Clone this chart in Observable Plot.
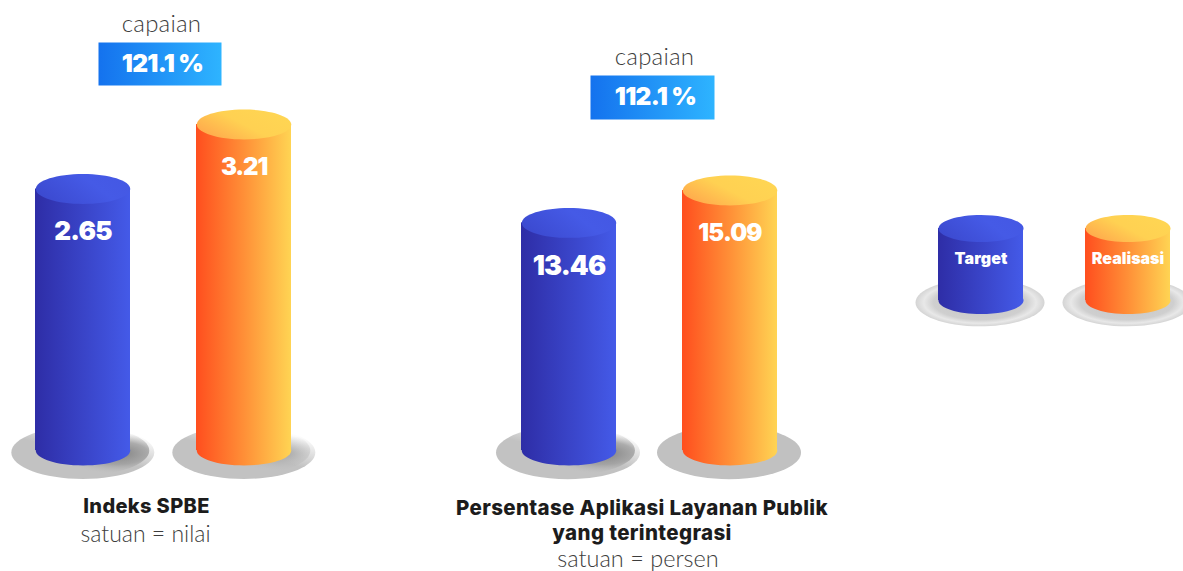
<!DOCTYPE html>
<html><head><meta charset="utf-8">
<script src="https://cdn.jsdelivr.net/npm/d3@7"></script>
<script src="https://cdn.jsdelivr.net/npm/@observablehq/plot@0.6"></script>
<style>
html,body{margin:0;padding:0;background:#fff;overflow:hidden}
#row{position:relative;width:1183px;height:571px}
#row svg{position:absolute;top:0;display:block;background:transparent}
</style></head><body><div id="row"></div>
<script>
const series = ["Target", "Realisasi"];
const spbeValues = [2.65, 3.21];
const aplikasiValues = [13.46, 15.09];
const legendLevels = [1, 1];
const achievementA = "121.1 %";
const achievementB = "112.1 %";
const titleA = ["Indeks SPBE"];
const titleB = ["Persentase Aplikasi Layanan Publik", "yang terintegrasi"];
const unitA = "satuan = nilai";
const unitB = "satuan = persen";
const captionWord = "capaian";

const BOLD = "Inter, 'Noto Sans', sans-serif";
const LIGHT = "Lato, Roboto, sans-serif";

function ellipseSymbol(k) {
  const c = 0.5522848;
  return {draw(ctx, size) {
    const rx = Math.sqrt(size / Math.PI), ry = rx * k;
    ctx.moveTo(rx, 0);
    ctx.bezierCurveTo(rx, ry * c, rx * c, ry, 0, ry);
    ctx.bezierCurveTo(-rx * c, ry, -rx, ry * c, -rx, 0);
    ctx.bezierCurveTo(-rx, -ry * c, -rx * c, -ry, 0, -ry);
    ctx.bezierCurveTo(rx * c, -ry, rx, -ry * c, rx, 0);
    ctx.closePath();
  }};
}
const boxSymbol = (w, h) => ({draw(ctx) { ctx.rect(-w / 2, -h / 2, w, h); }});
const spaced = ls => (index, scales, values, dims, ctx, next) => {
  const g = next(index, scales, values, dims, ctx);
  g.style.letterSpacing = ls + "px";
  return g;
};

const defsMark = () => d3.create("svg:defs").html(`
  <linearGradient id="gTarget"><stop offset="0" stop-color="#2e2da6"/><stop offset="1" stop-color="#445ae8"/></linearGradient>
  <linearGradient id="gRealisasi"><stop offset="0" stop-color="#ff4e1e"/><stop offset="0.5" stop-color="#ff8f37"/><stop offset="1" stop-color="#ffd453"/></linearGradient>
  <linearGradient id="tTarget" x1="0" y1="0.7" x2="1" y2="0.3"><stop offset="0" stop-color="#3b49cf"/><stop offset="0.65" stop-color="#455ae6"/><stop offset="1" stop-color="#4458e4"/></linearGradient>
  <linearGradient id="tRealisasi" x1="0" y1="0.8" x2="1" y2="0.2"><stop offset="0" stop-color="#ffa64c"/><stop offset="0.5" stop-color="#ffd152"/><stop offset="1" stop-color="#ffd653"/></linearGradient>
  <linearGradient id="gBox"><stop offset="0" stop-color="#1472ee"/><stop offset="1" stop-color="#2eb4ff"/></linearGradient>
  <radialGradient id="gShade" cx="0.76" cy="0.55" r="0.42"><stop offset="0" stop-color="#7f7f7f"/><stop offset="0.55" stop-color="#9c9c9c" stop-opacity="0.8"/><stop offset="1" stop-color="#bcbcbc" stop-opacity="0"/></radialGradient>
  <radialGradient id="gShadeSoft" cx="0.76" cy="0.55" r="0.36"><stop offset="0" stop-color="#9a9a9a"/><stop offset="1" stop-color="#bcbcbc" stop-opacity="0"/></radialGradient>
  <linearGradient id="gGlow" x1="0.35" y1="0.42" x2="0.62" y2="0"><stop offset="0" stop-color="#c2c2c2"/><stop offset="1" stop-color="#ffffff"/></linearGradient>
  <radialGradient id="gLegendPlate" cx="0.5" cy="0.5" r="0.5"><stop offset="0" stop-color="#c4c4c4"/><stop offset="0.72" stop-color="#cfcfcf"/><stop offset="0.87" stop-color="#e8e8e8"/><stop offset="1" stop-color="#d4d4d4"/></radialGradient>
`).node();

const fill = s => `url(#g${s})`;
const topFill = s => `url(#t${s})`;

const valueMark = (row, dy, size, ls) => Plot.text([row], {x: "series", y: "value", text: "label", dy, fontSize: size, fontWeight: 900, fontFamily: BOLD, fill: "#fff", render: spaced(ls)});
const annot = (text, dx, dy, o) => Plot.text([text], {frameAnchor: "top-left", dx, dy, textAnchor: "middle", lineAnchor: "middle", fontFamily: LIGHT, fontWeight: 300, fontSize: 23.5, fill: "#3d3d3d", ...o});
const caption = (dx, dy) => annot(captionWord, dx, dy, {fontSize: 24, render: spaced(0.2)});
const heading = (text, dx, dy, size = 20.5) => annot(text, dx, dy, {fontFamily: BOLD, fontWeight: 800, fontSize: size, fill: "#1c1c1c", render: spaced(0.35)});
const badge = (dx, dy, w, h) => Plot.dot([0], {frameAnchor: "top-left", dx, dy, symbol: boxSymbol(w, h), r: 1, fill: "url(#gBox)"});
const badgeText = (text, dx, dy) => annot(text, dx, dy, {fontFamily: BOLD, fontWeight: 900, fontSize: 24.5, fill: "#fff", render: spaced(-0.7)});

function buildRows(values, labels, plateFills, shades) {
  return series.map((s, i) => ({series: s, value: values[i], label: labels[i], plateFill: plateFills[i], shade: shades[i]}));
}

function chart(cfg) {
  const {width, left, x0, x1, band, step, domain, yTop, yBase, rows, plate, ratio, extra, sizes, spacing, dy} = cfg;
  const [baseValue] = domain;
  const plt = Plot.plot({
    width, height: 571, margin: 0,
    x: {type: "band", domain: series, range: [x0, x1], paddingInner: 1 - band / step, paddingOuter: 0, axis: null},
    y: {domain, range: [yBase, yTop], axis: null},
    color: {type: "identity"},
    marks: [
      defsMark,
      Plot.dot(rows, {x: "series", y: () => baseValue, r: plate.r, dx: plate.dx, dy: plate.dy, symbol: ellipseSymbol(plate.ratio), fill: "plateFill"}),
      Plot.dot(rows.filter(d => d.shade), {x: "series", y: () => baseValue, r: plate.r * 0.93, dx: plate.dx, dy: plate.dy - 2, symbol: ellipseSymbol(plate.ratio), fill: "shade"}),
      Plot.dot(rows, {x: "series", y: () => baseValue, r: band / 2, symbol: ellipseSymbol(ratio), fill: d => fill(d.series)}),
      Plot.barY(rows, {x: "series", y1: () => baseValue, y2: "value", fill: d => fill(d.series)}),
      Plot.dot(rows, {x: "series", y: "value", r: band / 2, symbol: ellipseSymbol(ratio), fill: d => topFill(d.series)}),
      ...rows.map((r, i) => valueMark(r, dy, sizes[i], spacing[i])),
      ...extra
    ]
  });
  plt.style.left = left + "px";
  return plt;
}

const row = document.getElementById("row");
row.append(chart({
  width: 330, left: 0, x0: 35, x1: 290.5, band: 94.5, step: 161,
  domain: [0.38, 3.21], yBase: 450, yTop: 124, ratio: 0.316, dy: 43, sizes: [26, 24], spacing: [-0.7, -1.2],
  plate: {r: 71.5, ratio: 0.37, dx: -0.2, dy: 2},
  rows: buildRows(spbeValues, spbeValues.map(v => v.toFixed(2)), ["url(#gGlow)", "url(#gGlow)"], ["url(#gShade)", "url(#gShadeSoft)"]),
  extra: [
    caption(161, 24),
    badge(159.5, 63.5, 123, 43),
    badgeText(achievementA, 162, 64),
    ...titleA.map((t, i) => heading(t, 146, 506.5 + i * 25, 20)),
    annot(unitA, 145, 534, {fontSize: 23})
  ]
}));
row.append(chart({
  width: 570, left: 330, x0: 191, x1: 446.5, band: 94.5, step: 161,
  domain: [2, 15.09], yBase: 450, yTop: 190, ratio: 0.316, dy: 43, sizes: [27, 24], spacing: [-0.9, -0.9],
  plate: {r: 72, ratio: 0.37, dx: -1, dy: 2},
  rows: buildRows(aplikasiValues, aplikasiValues.map(v => v.toFixed(2)), ["url(#gGlow)", "#c1c1c1"], ["url(#gShade)", null]),
  extra: [
    caption(324, 57),
    badge(322, 97, 124, 44),
    badgeText(achievementB, 325, 97),
    ...titleB.map((t, i) => heading(t, 311.5, 508 + i * 25)),
    annot(unitB, 307.5, 558.5)
  ]
}));
row.append(chart({
  width: 283, left: 900, x0: 38, x1: 270, band: 85, step: 147,
  domain: [0, 1], yBase: 300, yTop: 228, ratio: 0.318, dy: 30, sizes: [16, 16], spacing: [0.1, 0],
  plate: {r: 64.5, ratio: 0.37, dx: -1, dy: 2},
  rows: buildRows(legendLevels, series, ["url(#gLegendPlate)", "url(#gLegendPlate)"], [null, null]),
  extra: []
}));
</script></body></html>
